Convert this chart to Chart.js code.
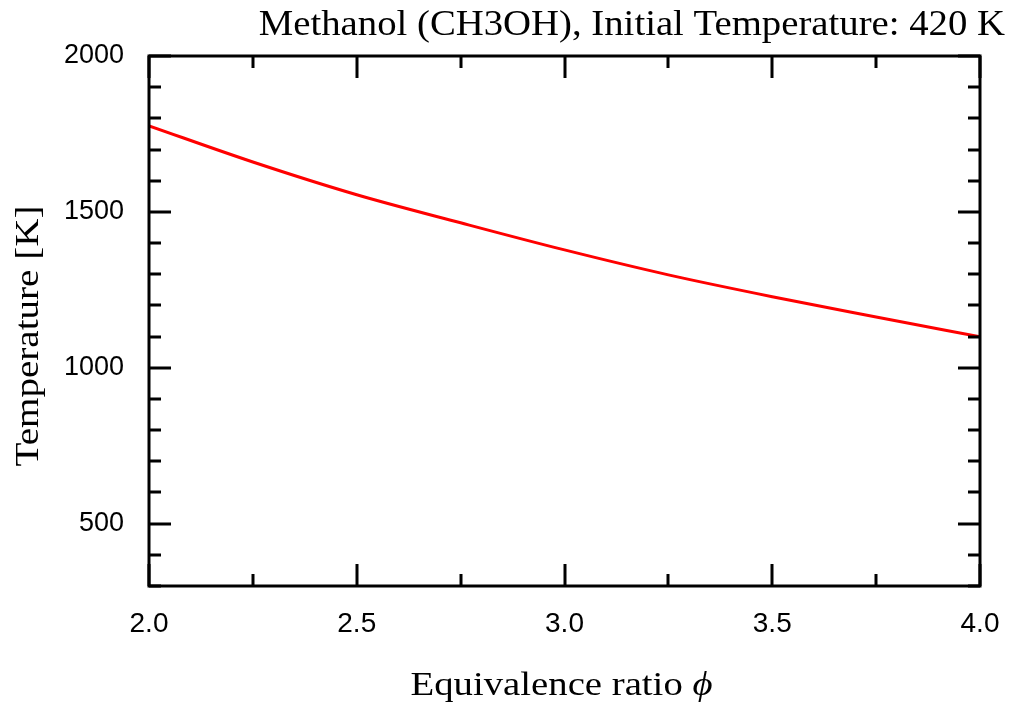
<!DOCTYPE html>
<html>
<head>
<meta charset="utf-8">
<script src="https://cdn.jsdelivr.net/npm/chart.js@4.4.1/dist/chart.umd.min.js"></script>
<style>
  html, body { margin: 0; padding: 0; background: #fff; }
  #wrap { width: 1016px; height: 707px; }
</style>
</head>
<body>
<div id="wrap"><canvas id="tempChart" width="1016" height="707"></canvas></div>
<script>
// Adiabatic flame temperature vs equivalence ratio
const phiValues = [2.0, 2.25, 2.5, 2.75, 3.0, 3.25, 3.5, 3.75, 4.0];
const temperatureK = [1776, 1660, 1555, 1465, 1378, 1298, 1228, 1163, 1099];

const xTickValues = [2.0, 2.5, 3.0, 3.5, 4.0];
const yTickValues = [500, 1000, 1500, 2000];
const xMinorStep = 0.25;
const yMinorStep = 100;

const titleText = 'Methanol (CH3OH), Initial Temperature: 420 K';
const xLabelText = 'Equivalence ratio ';
const xLabelSymbol = '\u03D5';
const yLabelText = 'Temperature [K]';

// text in the original is a little wider than the font, stretch it along its run
function stretchedText(ctx, text, x, y, align, sx) {
    ctx.save();
    ctx.translate(x, y);
    ctx.scale(sx, 1);
    ctx.textAlign = align;
    ctx.textBaseline = 'alphabetic';
    ctx.fillText(text, 0, 0);
    ctx.restore();
}

// Inward ticks on all four sides, the frame, title and axis labels
const frameTicks = {
    id: 'frameTicks',
    afterDatasetsDraw(chart) {
        const { ctx, chartArea: a, scales } = chart;
        const x = scales.x, y = scales.y;
        ctx.save();
        ctx.strokeStyle = '#000';
        ctx.lineWidth = 3;
        ctx.lineCap = 'butt';

        const xTick = (v, len) => {
            const px = Math.round(x.getPixelForValue(v));
            ctx.beginPath();
            ctx.moveTo(px, a.bottom); ctx.lineTo(px, a.bottom - len);
            ctx.moveTo(px, a.top); ctx.lineTo(px, a.top + len);
            ctx.stroke();
        };
        const yTick = (v, len) => {
            const py = Math.round(y.getPixelForValue(v));
            ctx.beginPath();
            ctx.moveTo(a.left, py); ctx.lineTo(a.left + len, py);
            ctx.moveTo(a.right, py); ctx.lineTo(a.right - len, py);
            ctx.stroke();
        };

        for (let v = x.min; v <= x.max + 1e-9; v += xMinorStep) {
            const major = xTickValues.some(t => Math.abs(t - v) < 1e-6);
            xTick(v, major ? 22 : 12);
        }
        for (let v = y.min; v <= y.max + 1e-9; v += yMinorStep) {
            const major = yTickValues.includes(Math.round(v));
            yTick(v, major ? 22 : 12);
        }
        ctx.strokeRect(a.left, a.top, a.right - a.left, a.bottom - a.top);

        ctx.fillStyle = '#000';

        // title, right aligned above the frame
        ctx.font = '35px "Liberation Serif"';
        stretchedText(ctx, titleText, 1005, 35, 'right', 1.107);

        // x label with italic phi
        const sx = 1.14;
        ctx.font = '34px "Liberation Serif"';
        const w1 = ctx.measureText(xLabelText).width;
        ctx.font = 'italic 34px "Liberation Serif"';
        const w2 = ctx.measureText(xLabelSymbol).width;
        const startX = (a.left + a.right) / 2 - 3 - (w1 + w2) * sx / 2;
        ctx.font = '34px "Liberation Serif"';
        stretchedText(ctx, xLabelText, startX, 695, 'left', sx);
        ctx.font = 'italic 34px "Liberation Serif"';
        stretchedText(ctx, xLabelSymbol, startX + w1 * sx, 695, 'left', sx);

        // y label, rotated
        ctx.save();
        ctx.translate(38, 336);
        ctx.rotate(-Math.PI / 2);
        ctx.font = '34px "Liberation Serif"';
        stretchedText(ctx, yLabelText, 0, 0, 'center', 1.15);
        ctx.restore();

        ctx.restore();
    }
};

const ctx = document.getElementById('tempChart').getContext('2d');
new Chart(ctx, {
    type: 'line',
    data: {
        datasets: [{
            data: phiValues.map((p, i) => ({ x: p, y: temperatureK[i] })),
            borderColor: '#ff0000',
            borderWidth: 3,
            pointRadius: 0,
            cubicInterpolationMode: 'monotone',
            fill: false
        }]
    },
    options: {
        responsive: false,
        animation: false,
        layout: { padding: { left: 0, right: 36, top: 56, bottom: 0 } },
        plugins: {
            legend: { display: false },
            tooltip: { enabled: false },
            title: { display: false }
        },
        scales: {
            x: {
                type: 'linear',
                min: 2.0,
                max: 4.0,
                afterBuildTicks: s => { s.ticks = xTickValues.map(v => ({ value: v })); },
                afterFit: s => { s.height = 121; s.paddingLeft = 0; s.paddingRight = 0; },
                grid: { display: false, drawTicks: false },
                border: { display: false },
                ticks: {
                    color: '#000',
                    padding: 21,
                    maxRotation: 0,
                    font: { family: 'Liberation Sans', size: 28 },
                    callback: v => Number(v).toFixed(1)
                },
                title: { display: false }
            },
            y: {
                min: 300,
                max: 2000,
                afterBuildTicks: s => { s.ticks = yTickValues.map(v => ({ value: v })); },
                afterFit: s => { s.width = 149; s.paddingTop = 0; s.paddingBottom = 0; },
                grid: { display: false, drawTicks: false },
                border: { display: false },
                ticks: {
                    color: '#000',
                    padding: 25,
                    font: { family: 'Liberation Sans', size: 27 },
                    callback: v => String(v)
                },
                title: { display: false }
            }
        }
    },
    plugins: [frameTicks]
});
</script>
</body>
</html>
